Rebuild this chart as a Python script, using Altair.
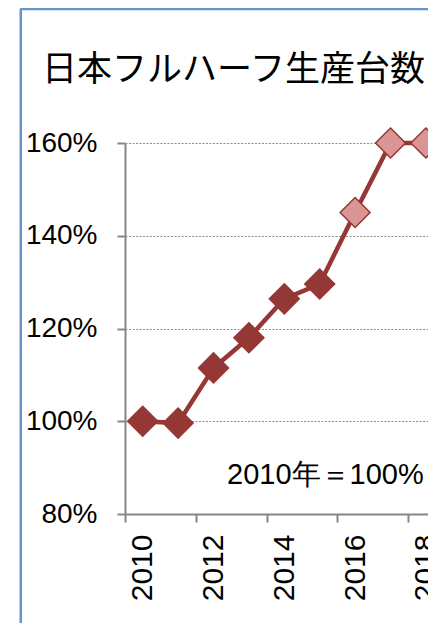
import altair as alt
import pandas as pd

# ---- data ----
years = [2010, 2011, 2012, 2013, 2014, 2015, 2016, 2017, 2018]
values = [100, 99.6, 111.5, 118.0, 126.4, 129.6, 145.0, 160.0, 160.0]
kinds = ["actual", "actual", "actual", "actual", "actual", "actual",
         "forecast", "forecast", "forecast"]
y_ticks = [80, 100, 120, 140, 160]
x_label_years = [2010, 2012, 2014, 2016, 2018]
title_text = "日本フルハーフ生産台数"
note_text = "2010年＝100%"

df = pd.DataFrame({"year": years, "value": values, "kind": kinds})

PAD_L, PAD_T = 117, 135
TOTAL_W = 420          # page body width: wider svgs get scaled down
W, H = TOTAL_W - PAD_L, 371
BAND = 35.4
TOTAL_H = 615
PAD_B = TOTAL_H - PAD_T - H

DARK = "#953735"
LIGHT = "#D99694"
GRAY = "#868686"
FRAME = "#6a93cc"

# category boundaries (tick marks sit between the years)
boundaries = [y - 0.5 for y in years]
labelled = "[" + ",".join(str(y) for y in x_label_years) + "]"

x_scale = alt.Scale(domain=[2009.5, 2009.5 + W / BAND], nice=False, zero=False)
y_scale = alt.Scale(domain=[80, 160], nice=False, zero=False)

x_axis = alt.Axis(
    values=boundaries,
    labelExpr=f"indexof({labelled}, datum.value + 0.5) >= 0 ? format(datum.value + 0.5, 'd') : ''",
    labelOffset=BAND / 2,
    labelAngle=270,
    labelFont="Liberation Sans",
    labelFontSize=30,
    labelColor="black",
    labelPadding=12,
    labelOverlap=False,
    labelFlush=False,
    tickSize=8,
    tickWidth=2,
    tickColor=GRAY,
    domainColor=GRAY,
    domainWidth=2,
    grid=False,
    title=None,
)

y_axis = alt.Axis(
    values=y_ticks,
    labelExpr="datum.value + '%'",
    labelFont="Liberation Sans",
    labelFontSize=28,
    labelColor="black",
    labelPadding=20,
    tickSize=8,
    tickWidth=2,
    tickColor=GRAY,
    domainColor=GRAY,
    domainWidth=2,
    grid=True,
    gridColor="#8c8c8c",
    gridDash=[2, 1.5],
    gridWidth=1.2,
    title=None,
)

base = alt.Chart(df)

line = base.mark_line(color=DARK, strokeWidth=4.5).encode(
    x=alt.X("year:Q", scale=x_scale, axis=x_axis),
    y=alt.Y("value:Q", scale=y_scale, axis=y_axis),
)

points = base.mark_point(
    shape="diamond", filled=True, size=900, stroke=DARK, strokeWidth=1.5, opacity=1
).encode(
    x=alt.X("year:Q", scale=x_scale),
    y=alt.Y("value:Q", scale=y_scale),
    fill=alt.Fill("kind:N", scale=alt.Scale(domain=["actual", "forecast"], range=[DARK, LIGHT]), legend=None),
)

one = alt.Data(values=[{"t": title_text, "n": note_text}])

title = alt.Chart(one).mark_text(
    font="Noto Sans CJK JP", fontSize=35, align="left", baseline="middle", color="black"
).encode(x=alt.value(-83), y=alt.value(-73), text="t:N")

note = alt.Chart(one).mark_text(
    font="Liberation Sans", fontSize=29, align="left", baseline="middle", color="black"
).encode(x=alt.value(102), y=alt.value(332), text="n:N")

frame_top = alt.Chart(one).mark_rule(color=FRAME, strokeWidth=2.5).encode(
    x=alt.value(-105), x2=alt.value(W + 5), y=alt.value(-134)
)
frame_left = alt.Chart(one).mark_rule(color=FRAME, strokeWidth=2.5).encode(
    x=alt.value(-104.25), y=alt.value(-134), y2=alt.value(TOTAL_H - PAD_T)
)

chart = alt.layer(line, points, title, note, frame_top, frame_left).properties(
    width=W,
    height=H,
    autosize=alt.AutoSizeParams(type="none"),
    padding={"left": PAD_L, "top": PAD_T, "right": 0, "bottom": PAD_B},
    background="white",
).configure_view(stroke=None)

chart.save("out.html", embed_options={"renderer": "svg", "actions": False})
